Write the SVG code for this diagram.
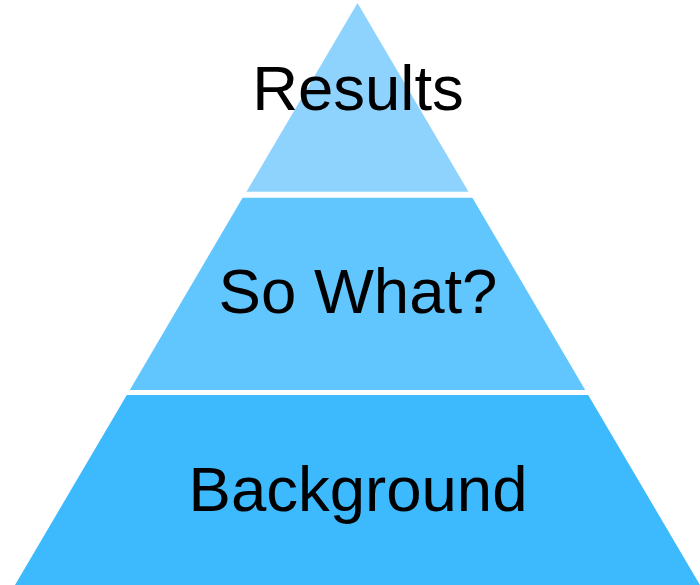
<svg xmlns="http://www.w3.org/2000/svg" width="700" height="585" viewBox="0 0 700 585">
<style>
.lbl{font-family:"Liberation Sans",Arial,sans-serif;font-size:63.5px;fill:#000;text-anchor:middle}
</style>
<rect width="700" height="585" fill="#fff"/>
<g id="tier-results">
<polygon points="357.5,3 468.5,191.7 246.5,191.7" fill="#8ED3FE"/>
<text class="lbl" x="358" y="110">Results</text>
</g>
<g id="tier-sowhat">
<polygon points="242.6,197.7 472.4,197.7 585.2,390 129.8,390" fill="#62C6FE"/>
<text class="lbl" x="358" y="312.7">So What?</text>
</g>
<g id="tier-background">
<polygon points="126.8,395 588.2,395 700,585 15,585" fill="#3DB9FE"/>
<text class="lbl" x="358" y="510.7">Background</text>
</g>
<g id="connectors"/>
</svg>
